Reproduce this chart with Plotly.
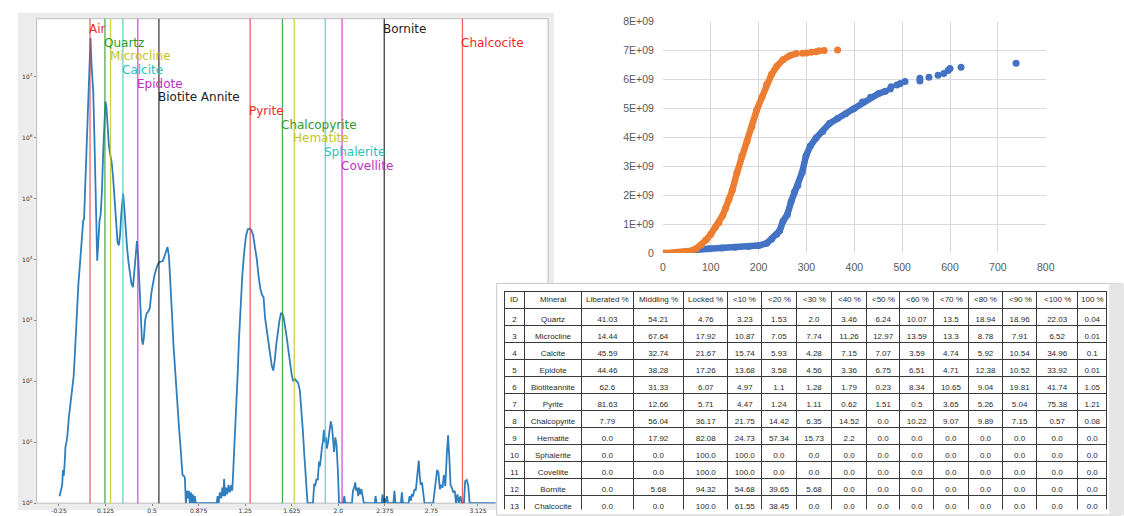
import plotly.graph_objects as go

W, H = 1124, 516

# ---------------- grey-level histogram (log counts) ----------------
hist_x = [
    -0.245, -0.232, -0.224, -0.218, -0.212, -0.205, -0.198, -0.190, -0.182, -0.170,
    -0.159, -0.145, -0.132, -0.122, -0.112, -0.102, -0.093, -0.082, -0.072, -0.062,
    -0.055, -0.048, -0.040, -0.030, -0.020, -0.008, 0.004, 0.012, 0.020, 0.026,
    0.034, 0.042, 0.050, 0.058, 0.066, 0.076, 0.086, 0.096, 0.106, 0.116,
    0.124, 0.132, 0.142, 0.152, 0.163, 0.174, 0.186, 0.198, 0.210, 0.222,
    0.232, 0.242, 0.252, 0.260, 0.267, 0.276, 0.286, 0.298, 0.310, 0.322,
    0.334, 0.346, 0.356, 0.366, 0.378, 0.388, 0.398, 0.408, 0.418, 0.426,
    0.434, 0.444, 0.456, 0.470, 0.482, 0.494, 0.506, 0.520, 0.532, 0.546,
    0.559, 0.572, 0.585, 0.598, 0.612, 0.624, 0.636, 0.648, 0.660, 0.672,
    0.684, 0.696, 0.708, 0.718, 0.728, 0.737, 0.745, 0.756, 0.764, 0.772,
    0.780, 0.788, 0.796, 0.804, 0.812, 0.820, 0.828, 0.836, 0.844, 0.852,
    1.020, 1.028, 1.036, 1.046, 1.056, 1.066, 1.074, 1.080, 1.088, 1.096,
    1.106, 1.116, 1.126, 1.138, 1.146, 1.152, 1.160, 1.170, 1.180, 1.190,
    1.200, 1.212, 1.226, 1.240, 1.256, 1.270, 1.286, 1.300, 1.314, 1.328,
    1.344, 1.358, 1.372, 1.386, 1.398, 1.410, 1.424, 1.438, 1.452, 1.464,
    1.476, 1.488, 1.500, 1.512, 1.526, 1.538, 1.548, 1.560, 1.572, 1.586,
    1.598, 1.612, 1.624, 1.636, 1.650, 1.664, 1.676, 1.690, 1.703, 1.714,
    1.726, 1.740, 1.752, 1.796, 1.806, 1.814, 1.824, 1.834, 1.845, 1.852,
    1.862, 1.870, 1.876, 1.884, 1.892, 1.900, 1.908, 1.918, 1.930, 1.940,
    1.950, 1.958, 1.966, 1.976, 1.986, 1.996, 2.006, 2.040, 2.048, 2.056,
    2.110, 2.118, 2.128, 2.136, 2.144, 2.152, 2.160, 2.168, 2.176, 2.186,
    2.196, 2.206, 2.294, 2.300, 2.308, 2.350, 2.356, 2.364, 2.372, 2.380,
    2.392, 2.400, 2.444, 2.452, 2.460, 2.504, 2.512, 2.520, 2.566, 2.574,
    2.584, 2.592, 2.602, 2.614, 2.624, 2.636, 2.648, 2.656, 2.664, 2.674,
    2.684, 2.694, 2.764, 2.774, 2.784, 2.796, 2.806, 2.818, 2.830, 2.840,
    2.850, 2.862, 2.874, 2.884, 2.894, 2.904, 2.914, 2.926, 2.938, 2.948,
    2.960, 2.970, 2.984, 2.994, 3.012, 3.022, 3.034, 3.046, 3.058, 3.265,
]
hist_counts = [
    1.3, 1.7, 2.0, 3.5, 2.8, 4.2, 8.3, 10, 13, 26,
    43, 71, 120, 280, 830, 1800, 4200, 7900, 14000, 32000,
    43000, 46000, 1.4e5, 5.0e5, 1.7e6, 1.1e7, 4.3e7, 1.6e7, 7.1e6, 5.6e6,
    1.3e6, 1.6e5, 28000, 9500, 18000, 42000, 56000, 1.3e5, 5.6e5, 2.2e6,
    3.9e6, 3.2e6, 1.3e6, 7.4e5, 5.2e5, 4.0e5, 2.2e5, 89000, 32000, 19000,
    17000, 25000, 56000, 1.0e5, 1.2e5, 71000, 32000, 16000, 8900, 5600,
    4000, 3500, 6300, 13000, 20000, 11000, 3200, 1000, 480, 400,
    520, 1000, 1300, 1400, 1600, 2800, 4200, 5600, 6800, 8300,
    9100, 9100, 9300, 11000, 14000, 16000, 11000, 4500, 1300, 400,
    160, 71, 32, 16, 8.9, 4.8, 2.9, 2.8, 2.6, 1,
    1.6, 1.2, 1.6, 1, 1.5, 1, 1.4, 1, 1.3, 1,
    1, 1.3, 1, 1.5, 1.2, 1.8, 1.3, 2.5, 1.3, 1.8,
    1.4, 2.0, 1.5, 2.0, 1.6, 2.9, 6.3, 16, 35, 140,
    500, 1600, 5200, 12000, 24000, 31000, 32000, 30000, 25000, 16000,
    10000, 5200, 3300, 2600, 2400, 1100, 710, 460, 280, 180,
    150, 220, 400, 660, 1000, 1300, 1300, 1100, 790, 500,
    320, 190, 130, 100, 110, 100, 95, 71, 35, 16,
    6.3, 2.4, 1, 1, 2.1, 1.9, 2.5, 2.4, 4.8, 4.0,
    6.9, 8.9, 10, 16, 10, 12, 7.9, 10, 16, 22,
    17, 11, 6.9, 12, 8.9, 3.5, 1, 1, 1.3, 1,
    1, 1.6, 1.8, 2.2, 1.6, 1.8, 1.3, 1.8, 1.4, 1.7,
    1.3, 1, 1, 1.3, 1, 1, 1.4, 1, 1.2, 1,
    1.3, 1, 1, 1.6, 1, 1, 1.5, 1, 1, 1.3,
    1.1, 1.4, 1.3, 1.7, 1.6, 2.9, 5.0, 2.8, 2.0, 2.2,
    1.6, 1, 1, 1.4, 2.2, 3.5, 3.2, 1.7, 2.0, 1.8,
    2.9, 1.9, 6.3, 13, 5.6, 2.0, 1.8, 1.5, 1.6, 1,
    1.4, 1, 1.3, 1, 1, 2.3, 2.4, 2.0, 1, 1,
]

minerals = ["Air", "Quartz", "Microcline", "Calcite", "Epidote", "Biotite Annite",
            "Pyrite", "Chalcopyrite", "Hematite", "Sphalerite", "Covellite",
            "Bornite", "Chalcocite"]
mineral_level = [0.0, 0.12, 0.165, 0.265, 0.385, 0.555,
                 1.29, 1.55, 1.645, 1.895, 2.03, 2.37, 3.0]

hist_xticks = [-0.25, 0.125, 0.5, 0.875, 1.25, 1.625, 2.0, 2.375, 2.75, 3.125]
hist_xtick_text = ["-0.25", "0.125", "0.5", "0.875", "1.25", "1.625",
                   "2.0", "2.375", "2.75", "3.125"]
hist_yticks = [1, 10, 100, 1000, 1e4, 1e5, 1e6, 1e7]
hist_ytick_text = ["10<sup>0</sup>", "10<sup>1</sup>", "10<sup>2</sup>", "10<sup>3</sup>",
                   "10<sup>4</sup>", "10<sup>5</sup>", "10<sup>6</sup>", "10<sup>7</sup>"]

# ---------------- cumulative scatter ----------------
blue_x = [45, 69, 96, 124, 151, 179, 200, 217, 227, 238, 244, 251, 260, 268, 275,
          282, 291, 299, 308, 320, 334, 348, 365, 382, 399, 417, 434, 451, 465]
blue_y = [0.0, 0.11e9, 0.15e9, 0.18e9, 0.20e9, 0.23e9, 0.26e9, 0.34e9, 0.48e9, 0.65e9,
          0.77e9, 1.10e9, 1.33e9, 1.78e9, 2.12e9, 2.34e9, 2.79e9, 3.36e9, 3.70e9, 3.98e9,
          4.20e9, 4.48e9, 4.65e9, 4.82e9, 4.99e9, 5.22e9, 5.39e9, 5.52e9, 5.59e9]
blue_tail_x = [475, 477, 489, 496, 506, 537, 537, 556, 575, 587, 596, 600, 623, 738]
blue_tail_y = [5.67e9, 5.75e9, 5.81e9, 5.86e9, 5.93e9, 5.95e9, 6.04e9, 6.08e9,
               6.15e9, 6.21e9, 6.31e9, 6.38e9, 6.42e9, 6.56e9]

orange_x = [3, 25, 45, 60, 70, 80, 90, 100, 110, 117, 125, 131, 138, 145, 155,
            165, 176, 186, 196, 207, 217, 227, 238, 251, 265, 279]
orange_y = [0.0, 0.01e9, 0.03e9, 0.08e9, 0.16e9, 0.28e9, 0.45e9, 0.65e9, 0.90e9,
            1.05e9, 1.30e9, 1.55e9, 1.85e9, 2.17e9, 2.79e9, 3.36e9, 3.86e9, 4.37e9,
            4.94e9, 5.39e9, 5.84e9, 6.17e9, 6.46e9, 6.68e9, 6.82e9, 6.90e9]
orange_tail_x = [292, 300, 310, 320, 327, 337, 365]
orange_tail_y = [6.91e9, 6.92e9, 6.94e9, 6.96e9, 6.99e9, 7.00e9, 7.02e9]

scatter_yticks = [0, 1e9, 2e9, 3e9, 4e9, 5e9, 6e9, 7e9, 8e9]
scatter_ytick_text = ["0", "1E+09", "2E+09", "3E+09", "4E+09", "5E+09",
                      "6E+09", "7E+09", "8E+09"]

# ---------------- liberation table ----------------
table_header = ["ID", "Mineral", "Liberated %", "Middling %", "Locked %", "<10 %",
                "<20 %", "<30 %", "<40 %", "<50 %", "<60 %", "<70 %", "<80 %",
                "<90 %", "<100 %", "100 %"]
table_ids = [2, 3, 4, 5, 6, 7, 8, 9, 10, 11, 12, 13]
table_minerals = ["Quartz", "Microcline", "Calcite", "Epidote", "Biotiteannite", "Pyrite",
                  "Chalcopyrite", "Hematite", "Sphalerite", "Covellite", "Bornite",
                  "Chalcocite"]
table_rows = [
    [41.03, 54.21, 4.76, 3.23, 1.53, 2.0, 3.46, 6.24, 10.07, 13.5, 18.94, 18.96, 22.03, 0.04],
    [14.44, 67.64, 17.92, 10.87, 7.05, 7.74, 11.26, 12.97, 13.59, 13.3, 8.78, 7.91, 6.52, 0.01],
    [45.59, 32.74, 21.67, 15.74, 5.93, 4.28, 7.15, 7.07, 3.59, 4.74, 5.92, 10.54, 34.96, 0.1],
    [44.46, 38.28, 17.26, 13.68, 3.58, 4.56, 3.36, 6.75, 6.51, 4.71, 12.38, 10.52, 33.92, 0.01],
    [62.6, 31.33, 6.07, 4.97, 1.1, 1.28, 1.79, 0.23, 8.34, 10.65, 9.04, 19.81, 41.74, 1.05],
    [81.63, 12.66, 5.71, 4.47, 1.24, 1.11, 0.62, 1.51, 0.5, 3.65, 5.26, 5.04, 75.38, 1.21],
    [7.79, 56.04, 36.17, 21.75, 14.42, 6.35, 14.52, 0.0, 10.22, 9.07, 9.89, 7.15, 0.57, 0.08],
    [0.0, 17.92, 82.08, 24.73, 57.34, 15.73, 2.2, 0.0, 0.0, 0.0, 0.0, 0.0, 0.0, 0.0],
    [0.0, 0.0, 100.0, 100.0, 0.0, 0.0, 0.0, 0.0, 0.0, 0.0, 0.0, 0.0, 0.0, 0.0],
    [0.0, 0.0, 100.0, 100.0, 0.0, 0.0, 0.0, 0.0, 0.0, 0.0, 0.0, 0.0, 0.0, 0.0],
    [0.0, 5.68, 94.32, 54.68, 39.65, 5.68, 0.0, 0.0, 0.0, 0.0, 0.0, 0.0, 0.0, 0.0],
    [0.0, 0.0, 100.0, 61.55, 38.45, 0.0, 0.0, 0.0, 0.0, 0.0, 0.0, 0.0, 0.0, 0.0],
]


def fx(px):
    return px / W


def fy(py):
    return 1 - py / H


line_colors = ["rgba(235,60,60,0.8)", "rgba(40,150,40,0.8)", "rgba(200,200,40,0.85)",
               "rgba(60,200,200,0.8)", "rgba(200,40,200,0.8)", "rgba(30,30,30,0.85)"]
text_colors = ["#f02828", "#2e9a2e", "#c4c428", "#2cc0c0", "#c030c0", "#222222"]

fig = go.Figure()

fig.add_trace(go.Scatter(
    x=hist_x, y=hist_counts, mode="lines",
    line=dict(color="#2f7ebd", width=1.8),
    xaxis="x", yaxis="y", showlegend=False, hoverinfo="skip",
))

fig.add_trace(go.Scatter(
    x=blue_x, y=blue_y, mode="lines+markers",
    line=dict(color="#4472C4", width=6.5),
    marker=dict(color="#4472C4", size=7),
    xaxis="x2", yaxis="y2", showlegend=False,
))
fig.add_trace(go.Scatter(
    x=blue_tail_x, y=blue_tail_y, mode="markers",
    marker=dict(color="#4472C4", size=7),
    xaxis="x2", yaxis="y2", showlegend=False,
))
fig.add_trace(go.Scatter(
    x=orange_x, y=orange_y, mode="lines+markers",
    line=dict(color="#ED7D31", width=6.5),
    marker=dict(color="#ED7D31", size=7),
    xaxis="x2", yaxis="y2", showlegend=False,
))
fig.add_trace(go.Scatter(
    x=orange_tail_x, y=orange_tail_y, mode="markers",
    marker=dict(color="#ED7D31", size=7),
    xaxis="x2", yaxis="y2", showlegend=False,
))

# table grid: header cells hold only a non-breaking space (so the row keeps
# its 17 px height) and the column titles are written over them as annotations
tbl_left, tbl_right, tbl_top, row_h = 507, 1116, 292, 17
col_w = [20, 58, 52, 51, 45, 34, 35, 36, 35, 34, 34, 35, 35, 34, 42, 29]
columns = [[str(i) for i in table_ids], table_minerals]
for c in range(len(table_rows[0])):
    columns.append([str(r[c]) for r in table_rows])

fig.add_trace(go.Table(
    domain=dict(x=[fx(tbl_left), fx(tbl_right)], y=[0, fy(tbl_top)]),
    columnwidth=col_w,
    header=dict(values=["\u00a0"] * len(table_header), height=row_h,
                fill_color="rgba(0,0,0,0)", line=dict(color="#3a3a3a", width=1),
                font=dict(family="Liberation Sans", size=8, color="#2a2a2a")),
    cells=dict(values=columns, height=row_h, align="center",
               fill_color="white", line=dict(color="#3a3a3a", width=1),
               font=dict(family="Liberation Sans", size=8, color="#2a2a2a")),
))

shapes = [
    # grey panel of the histogram window and its white plotting area
    dict(type="rect", xref="paper", yref="paper", x0=fx(15), x1=fx(557), y0=0, y1=fy(7),
         fillcolor="#ececec", line=dict(width=0), layer="below"),
    dict(type="rect", xref="paper", yref="paper", x0=fx(34), x1=fx(551), y0=fy(509), y1=fy(13),
         fillcolor="white", line=dict(color="#bdbdbd", width=1), layer="below"),
    # box holding the table, laid over the lower right of the histogram window
    dict(type="rect", xref="paper", yref="paper", x0=fx(499), x1=fx(1130),
         y0=-0.01, y1=fy(284), fillcolor="white",
         line=dict(color="#c8c8c8", width=1), layer="below"),
    dict(type="rect", xref="paper", yref="paper", x0=fx(1118), x1=1.01,
         y0=-0.01, y1=fy(284), fillcolor="#e6e6e6",
         line=dict(width=0), layer="below"),
]
annotations = []
for i, (name, xv) in enumerate(zip(minerals, mineral_level)):
    k = i % 6
    row = i if i < 11 else i - 11
    shapes.append(dict(type="line", xref="x", yref="y domain", x0=xv, x1=xv, y0=0, y1=1,
                       line=dict(color=line_colors[k], width=1.3), layer="above"))
    annotations.append(dict(x=xv, y=7.78 - 0.2244 * row, xref="x", yref="y",
                            text=name, showarrow=False, xanchor="left", yanchor="middle",
                            xshift=-3,
                            font=dict(family="DejaVu Sans", size=12, color=text_colors[k])))

scale = (tbl_right - tbl_left) / sum(col_w)
left = tbl_left
for title, w in zip(table_header, col_w):
    annotations.append(dict(x=fx(left + w * scale / 2), y=fy(tbl_top + row_h / 2),
                            xref="paper", yref="paper", text=title, showarrow=False,
                            xanchor="center", yanchor="middle",
                            font=dict(family="Liberation Sans", size=8, color="#2a2a2a")))
    left += w * scale

fig.update_layout(
    width=W, height=H, autosize=False,
    margin=dict(l=0, r=0, t=0, b=0),
    paper_bgcolor="white", plot_bgcolor="rgba(0,0,0,0)",
    shapes=shapes, annotations=annotations,
    xaxis=dict(domain=[fx(34), fx(551)], range=[-0.43, 3.69], anchor="y",
               tickmode="array", tickvals=hist_xticks, ticktext=hist_xtick_text,
               tickfont=dict(family="DejaVu Sans", size=6, color="#333"),
               showgrid=False, zeroline=False, showline=False,
               ticks="outside", ticklen=2, tickcolor="#888"),
    yaxis=dict(domain=[fy(509), fy(13)], type="log", range=[0, 7.95], anchor="x",
               tickmode="array", tickvals=hist_yticks, ticktext=hist_ytick_text,
               tickfont=dict(family="DejaVu Sans", size=6, color="#333"),
               showgrid=False, zeroline=False, showline=False,
               ticks="outside", ticklen=2, tickcolor="#888"),
    xaxis2=dict(domain=[fx(667), fx(1054)], range=[0, 800], anchor="y2",
                tickmode="linear", tick0=0, dtick=100,
                tickfont=dict(family="Liberation Sans", size=10.5, color="#595959"),
                showgrid=True, gridcolor="#d9d9d9", gridwidth=1,
                zeroline=False, showline=False, ticks="", ticklabelstandoff=6),
    yaxis2=dict(domain=[fy(253), fy(16)], range=[0, 8e9], anchor="x2",
                tickmode="array", tickvals=scatter_yticks, ticktext=scatter_ytick_text,
                tickfont=dict(family="Liberation Sans", size=10.5, color="#595959"),
                showgrid=True, gridcolor="#d9d9d9", gridwidth=1,
                zeroline=False, showline=False, ticks="", ticklabelstandoff=8),
)

fig.write_html("out.html", config={"displayModeBar": False})
